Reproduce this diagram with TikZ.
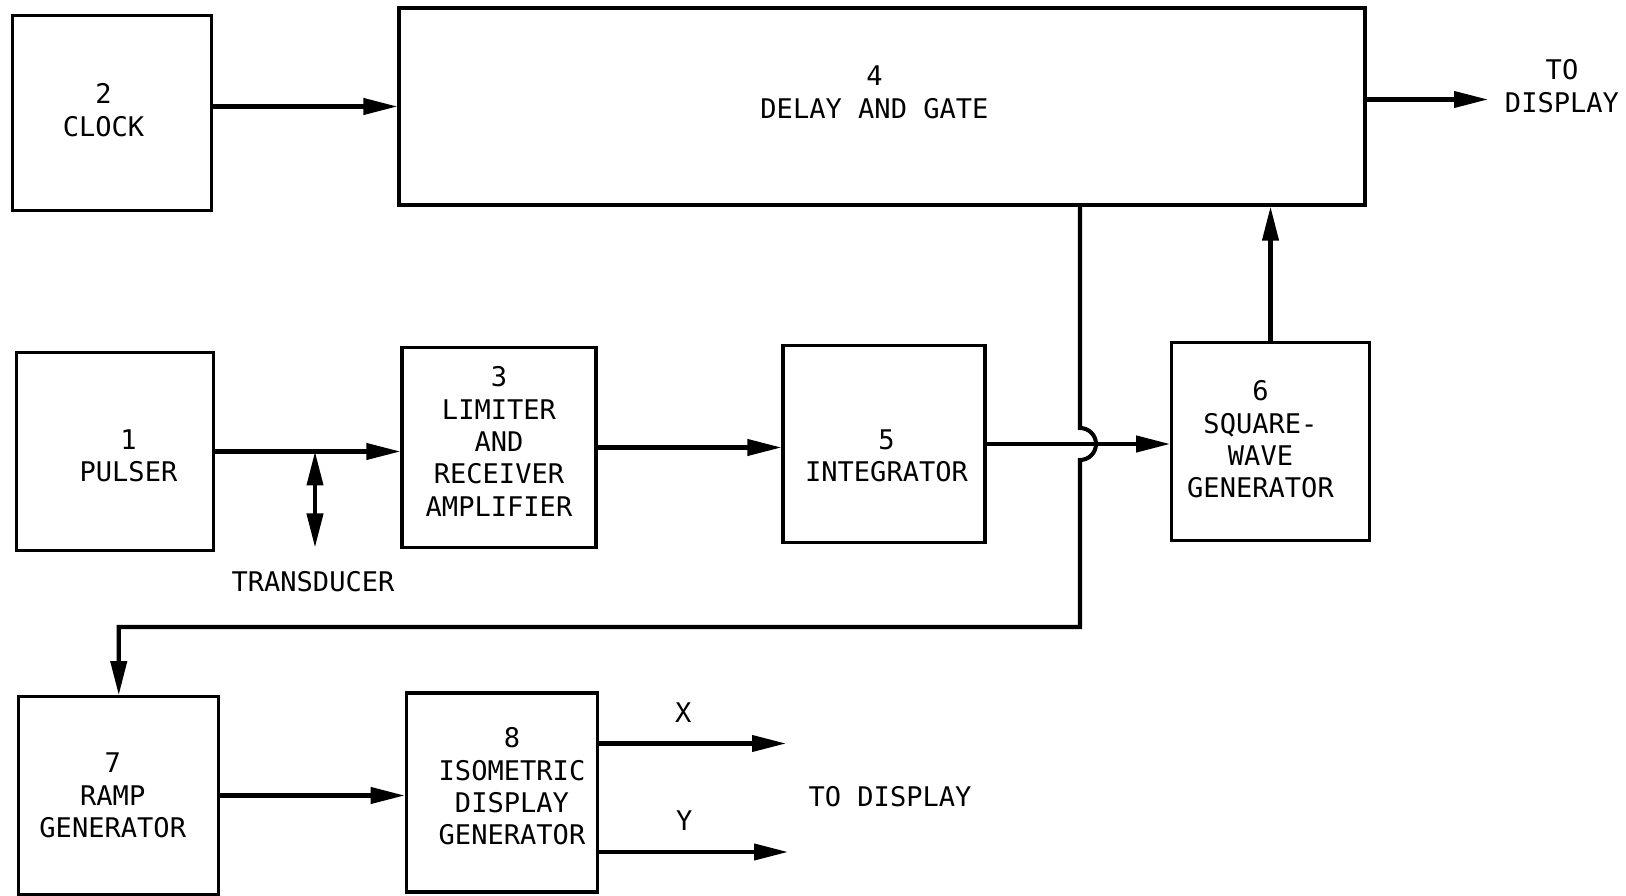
\documentclass[tikz,border=0pt]{standalone}
\usepackage{fontspec}
\setmonofont{DejaVu Sans Mono}
\usetikzlibrary{positioning,arrows.meta}
\newcommand{\lettering}{\ttfamily\fontsize{15.4}{18.4}\selectfont}

\begin{document}
\begin{tikzpicture}[
  block/.style={draw, line width=1.8pt, minimum width=3.95cm, minimum height=3.95cm,
                inner sep=0pt},
  conn/.style={line width=2.3pt, -{Triangle[length=6.8mm, width=3.2mm]}},
  lbl/.style={font=\lettering, align=center, inner sep=0pt},
]
\useasboundingbox (0,0) rectangle (32.52,17.92);

% top row
\node[block, minimum width=3.98cm, minimum height=3.9cm] (clk) at (2.24,15.66) {};
\node[block, minimum width=19.32cm, minimum height=3.94cm] (dly) at (17.64,15.79) {};
\node[lbl] (clkt) at ([xshift=-0.17cm, yshift=0.06cm]clk.center) {2\\CLOCK};
\node[lbl] (dlyt) at ([xshift=-0.15cm, yshift=0.28cm]dly.center) {4\\DELAY AND GATE};

% middle row
\node[block] (pls) at (2.30,8.89) {};
\node[block, minimum width=3.88cm, minimum height=4.01cm] (lim) at (9.98,8.97) {};
\node[block, minimum width=4.04cm] (intg) at (17.68,9.04) {};
\node[block] (sqw) at (25.41,9.09) {};
\node[lbl] (plst) at ([xshift=0.27cm, yshift=-0.08cm]pls.center) {1\\PULSER};
\node[lbl] (limt) at ([yshift=0.12cm]lim.center) {3\\LIMITER\\AND\\RECEIVER\\AMPLIFIER};
\node[lbl] (intgt) at ([xshift=0.05cm, yshift=-0.24cm]intg.center) {5\\INTEGRATOR};
\node[lbl] (sqwt) at ([xshift=-0.2cm, yshift=0.04cm]sqw.center) {6\\SQUARE-\\WAVE\\GENERATOR};

% bottom row
\node[block, minimum width=4cm] (ramp) at (2.375,2.01) {};
\node[block, minimum width=3.83cm, minimum height=3.98cm] (iso) at (10.04,2.07) {};
\node[lbl] (rampt) at ([xshift=-0.12cm]ramp.center) {7\\RAMP\\GENERATOR};
\node[lbl] (isot) at ([xshift=0.2cm, yshift=0.12cm]iso.center) {8\\ISOMETRIC\\DISPLAY\\GENERATOR};

% free ends
\coordinate (dout) at (29.76,15.93);
\coordinate (tdx)  at (6.30,6.97);
\coordinate (hx)   at (21.60,5.38);
\coordinate (xout) at (15.72,3.05);
\coordinate (yout) at (15.76,0.88);

% signal paths
\draw[conn] (dly.west -| clk.east) -- (dly.west);
\draw[conn] (dout -| dly.east) -- (dout);
\node[lbl] (dlbl) at (31.24,16.20) {TO\\DISPLAY};

\draw[conn] (pls.east) -- (pls.east -| lim.west);
\draw[line width=2.3pt, {Triangle[length=6.8mm, width=3.2mm]}-{Triangle[length=6.8mm, width=3.2mm]}]
  (tdx |- pls.east) -- (tdx);
\node[lbl] (tlbl) at (6.26,6.28) {TRANSDUCER};

\draw[conn] (lim.east) -- (lim.east -| intg.west);
\draw[conn] (intg.east) -- (intg.east -| sqw.west);
\draw[conn] (sqw.north) -- (sqw.north |- dly.south);

% gate line hopping over the integrator output
\draw[conn] (hx |- dly.south) -- ([yshift=0.32cm]hx |- intg.east)
  arc[start angle=90, end angle=-90, radius=0.32cm] -- (hx) -| (ramp.north);

\draw[conn] (ramp.east) -- (ramp.east -| iso.west);
\draw[conn] (xout -| iso.east) -- (xout) node[lbl, pos=0.45, above=0.38cm] (xlbl) {X};
\draw[conn] (yout -| iso.east) -- (yout) node[lbl, pos=0.45, above=0.38cm] (ylbl) {Y};
\node[lbl] (olbl) at (17.80,1.98) {TO DISPLAY};
\end{tikzpicture}
\end{document}
